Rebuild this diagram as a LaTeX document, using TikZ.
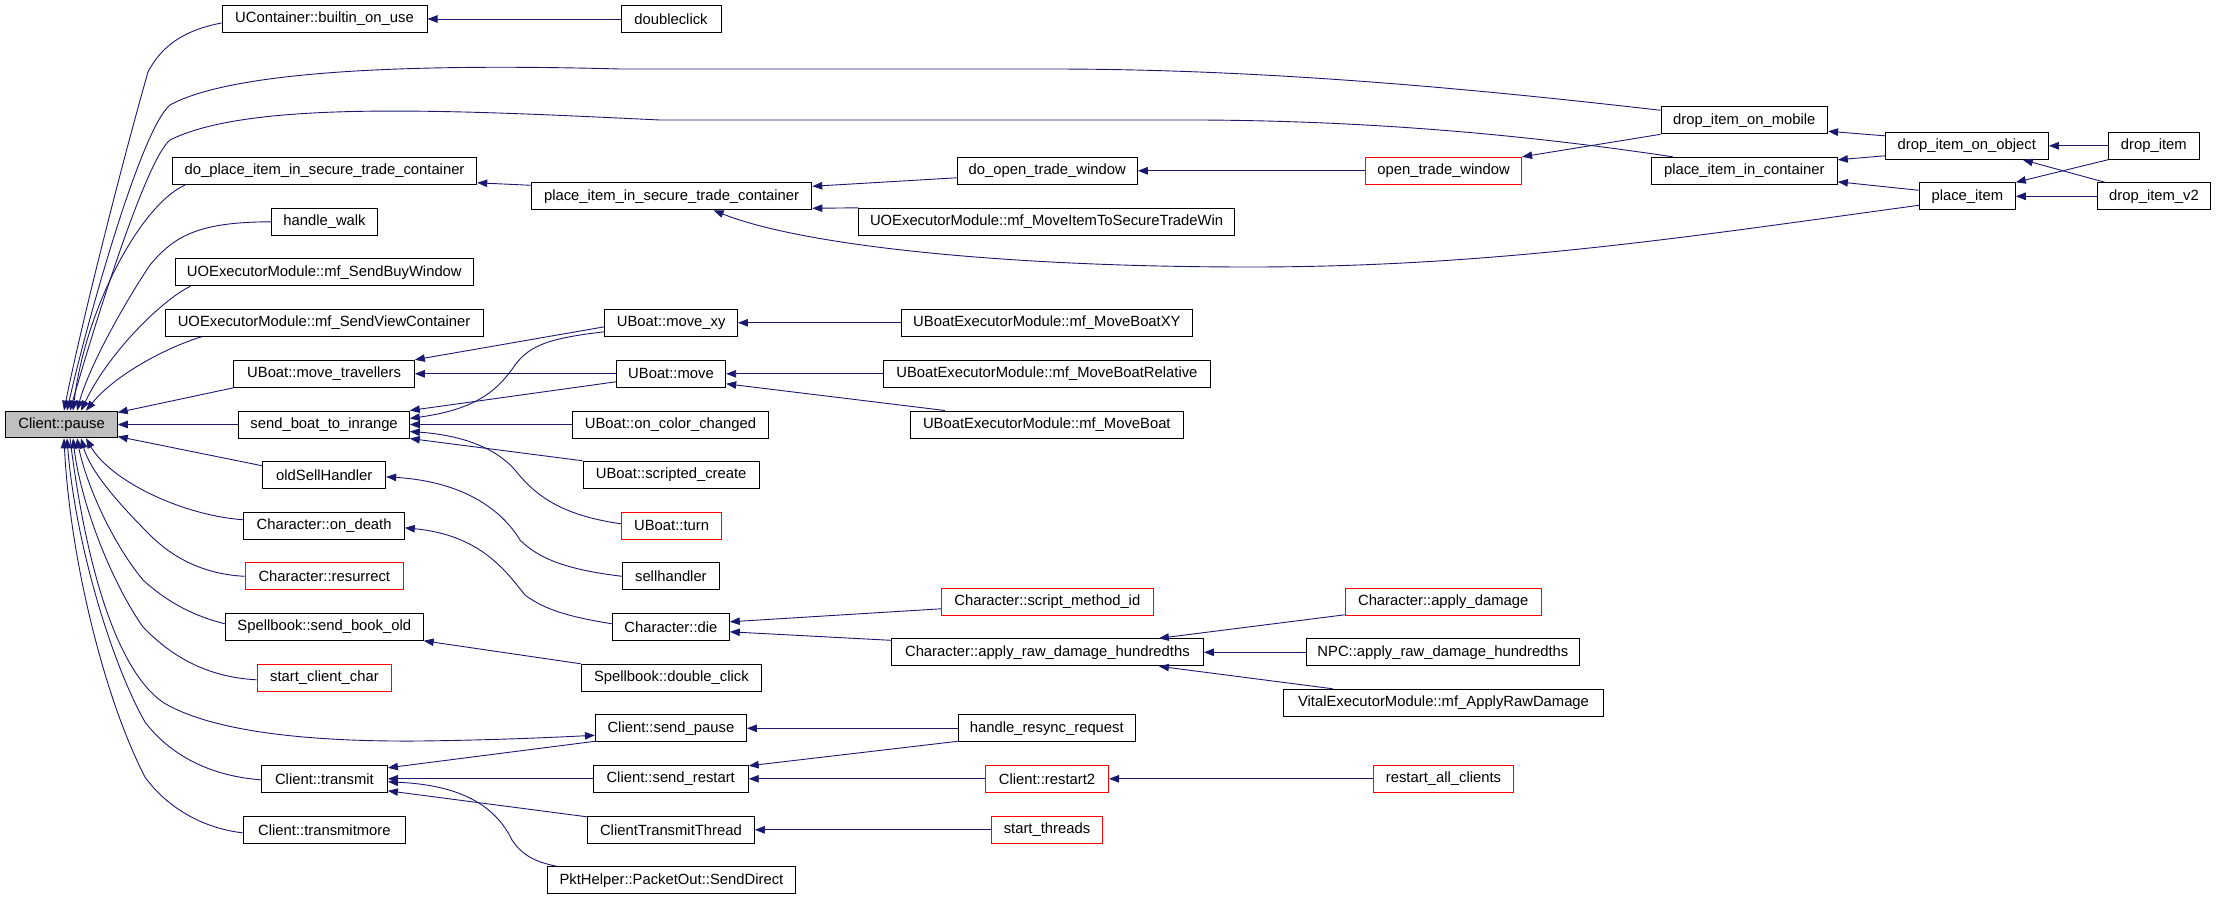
\documentclass[tikz,border=0pt]{standalone}
\usepackage{fontspec}
\setmainfont{Liberation Sans}
\usetikzlibrary{arrows.meta,calc}
\definecolor{edgeblue}{RGB}{25,25,112}
\definecolor{pausegray}{RGB}{191,191,191}
\definecolor{boxred}{RGB}{255,0,0}
\tikzset{
  fnbox/.style={rectangle,draw=black,line width=1pt,inner sep=0pt,minimum height=27pt,fill=white,font=\fontsize{14.8}{17}\selectfont},
  redbox/.style={draw=boxred},
  edge/.style={draw=edgeblue,line width=0.9pt,-{Triangle[length=10pt,width=7.5pt]}}
}
\newcommand\fn[5][]{\node[fnbox,minimum width=#4pt,#1] (#2) at (#3) {#5};}
\begin{document}
\begin{tikzpicture}[x=1pt,y=-1pt]
\useasboundingbox (0,0) rectangle (2216,899);
% nodes
\fn[fill=pausegray,minimum height=26.6pt]{pause}{61.6,424.5}{111.3}{Client::pause}
\fn{ucont}{324.5,19}{205}{UContainer::builtin\_on\_use}
\fn{doubleclick}{671,19}{100}{doubleclick}
\fn{doplace}{324.6,170.8}{304.3}{do\_place\_item\_in\_secure\_trade\_container}
\fn{pisecure}{671.6,196.3}{280.4}{place\_item\_in\_secure\_trade\_container}
\fn{hwalk}{324.5,221.8}{106}{handle\_walk}
\fn{sendbuy}{324.3,272.3}{298.6}{UOExecutorModule::mf\_SendBuyWindow}
\fn{sendview}{324.1,322.8}{318.2}{UOExecutorModule::mf\_SendViewContainer}
\fn{movetrav}{324.1,373.8}{180.4}{UBoat::move\_travellers}
\fn{sendboat}{324.1,424.5}{170.4}{send\_boat\_to\_inrange}
\fn{oldsell}{324.3,474.8}{122.8}{oldSellHandler}
\fn{ondeath}{324.1,525.8}{160.4}{Character::on\_death}
\fn[redbox]{resurrect}{324.3,576.3}{158.6}{Character::resurrect}
\fn{sendbook}{324.3,626.8}{197.8}{Spellbook::send\_book\_old}
\fn[redbox]{startcc}{324.4,677.8}{134.7}{start\_client\_char}
\fn{transmit}{324.4,778.8}{126}{Client::transmit}
\fn{transmitmore}{324.4,829.8}{162.5}{Client::transmitmore}
\fn{movexy}{671.2,322.8}{132.5}{UBoat::move\_xy}
\fn{move}{671,373.8}{109.3}{UBoat::move}
\fn{oncolor}{670.5,424.5}{195.3}{UBoat::on\_color\_changed}
\fn{scripted}{671.2,474.8}{176}{UBoat::scripted\_create}
\fn[redbox]{turn}{671.6,525.8}{100.4}{UBoat::turn}
\fn{sellhandler}{670.9,576.3}{96.8}{sellhandler}
\fn{die}{670.9,626.8}{116.8}{Character::die}
\fn{dblclick}{671.4,677.8}{180}{Spellbook::double\_click}
\fn{sendpause}{670.9,728.3}{151}{Client::send\_pause}
\fn{sendrestart}{670.7,778.8}{155}{Client::send\_restart}
\fn{ctt}{670.9,829.8}{166.8}{ClientTransmitThread}
\fn{senddirect}{671.4,880.3}{248}{PktHelper::PacketOut::SendDirect}
\fn{doopen}{1047.2,170.8}{180.2}{do\_open\_trade\_window}
\fn{moveitem}{1046.6,221.8}{375.4}{UOExecutorModule::mf\_MoveItemToSecureTradeWin}
\fn{mbxy}{1046.9,322.8}{291}{UBoatExecutorModule::mf\_MoveBoatXY}
\fn{mbrel}{1046.9,373.8}{327.4}{UBoatExecutorModule::mf\_MoveBoatRelative}
\fn{mb}{1046.8,424.5}{272.8}{UBoatExecutorModule::mf\_MoveBoat}
\fn[redbox]{smi}{1047.3,601.8}{211.8}{Character::script\_method\_id}
\fn{ard}{1047.4,652.3}{312}{Character::apply\_raw\_damage\_hundredths}
\fn{resync}{1046.8,728.3}{177.3}{handle\_resync\_request}
\fn[redbox]{restart2}{1047,778.8}{123}{Client::restart2}
\fn[redbox]{startthreads}{1047,829.8}{111}{start\_threads}
\fn[redbox]{opentrade}{1443.6,170.8}{156}{open\_trade\_window}
\fn[redbox]{applydmg}{1443.2,601.8}{196}{Character::apply\_damage}
\fn{npc}{1442.9,652.3}{273}{NPC::apply\_raw\_damage\_hundredths}
\fn{vital}{1443.5,702.8}{320}{VitalExecutorModule::mf\_ApplyRawDamage}
\fn[redbox]{restartall}{1443.5,778.8}{140}{restart\_all\_clients}
\fn{dropmob}{1744.3,120.3}{166.5}{drop\_item\_on\_mobile}
\fn{picont}{1744.3,170.8}{186}{place\_item\_in\_container}
\fn{dropobj}{1966.8,145.8}{163}{drop\_item\_on\_object}
\fn{placeitem}{1967.3,196.3}{96}{place\_item}
\fn{dropitem}{2153.8,145.8}{91}{drop\_item}
\fn{dropv2}{2154,196.3}{113}{drop\_item\_v2}
% edges into Client::pause
\draw[edge] ($(ucont.west)+(0,4)$) .. controls (185,30) and (162,45) .. (148,72) .. controls (120,170) and (80,330) .. ($(pause.north)+(2.4,0)$);
\draw[edge] ($(dropmob.west)+(0,-10)$) .. controls (1450,86) and (1250,69) .. (1050,69) -- (620,69) .. controls (400,63) and (230,72) .. (170,105) .. controls (140,130) and (85,330) .. ($(pause.north)+(5.4,0)$);
\draw[edge] ($(picont.north west)+(22,0)$) .. controls (1560,140) and (1400,121) .. (1200,120) -- (660,120) .. controls (450,110) and (250,100) .. (170,140) .. controls (145,160) and (90,340) .. ($(pause.north)+(8.4,0)$);
\draw[edge] ($(doplace.south west)+(13.5,0)$) .. controls (140,205) and (85,310) .. ($(pause.north)+(11.4,0)$);
\draw[edge] (hwalk.west) .. controls (200,222) and (175,235) .. (150,265) .. controls (120,310) and (88,370) .. ($(pause.north)+(15.4,0)$);
\draw[edge] ($(sendbuy.south west)+(16,0)$) .. controls (165,298) and (110,350) .. ($(pause.north)+(19.4,0)$);
\draw[edge] ($(sendview.south west)+(37,0)$) .. controls (165,348) and (115,375) .. ($(pause.north)+(24.4,0)$);
\draw[edge] (movetrav.south west) -- ($(pause.east)+(0,-12)$);
\draw[edge] (sendboat.west) -- (pause.east);
\draw[edge] ($(oldsell.west)+(0,-9)$) -- ($(pause.east)+(0,12)$);
\draw[edge] ($(ondeath.west)+(0,-6)$) .. controls (180,515) and (110,480) .. ($(pause.south)+(24.4,0)$);
\draw[edge] (resurrect.west) .. controls (200,574) and (170,555) .. (150,535) .. controls (115,500) and (90,470) .. ($(pause.south)+(19.4,0)$);
\draw[edge] ($(sendbook.west)+(0,-3)$) .. controls (190,615) and (165,600) .. (143,580) .. controls (110,540) and (85,480) .. ($(pause.south)+(15.4,0)$);
\draw[edge] ($(startcc.west)+(0,2)$) .. controls (205,677) and (170,655) .. (143,627) .. controls (110,580) and (80,500) .. ($(pause.south)+(11.4,0)$);
\draw[edge] ($(pause.south)+(8.4,0)$) .. controls (85,560) and (115,670) .. (164,703) .. controls (210,730) and (300,742) .. (420,741) .. controls (500,740) and (560,737) .. ($(sendpause.west)+(0,7)$);
\draw[edge] ($(transmit.west)+(0,1)$) .. controls (210,776) and (170,755) .. (145,722) .. controls (110,660) and (75,540) .. ($(pause.south)+(5.4,0)$);
\draw[edge] ($(transmitmore.west)+(0,3)$) .. controls (200,828) and (165,805) .. (145,777) .. controls (105,700) and (70,560) .. ($(pause.south)+(2.4,0)$);
% column 2 -> column 1
\draw[edge] (doubleclick.west) -- (ucont.east);
\draw[edge] ($(pisecure.north west)+(0,3)$) -- ($(doplace.south east)+(0,-2)$);
\draw[edge] ($(movexy.west)+(0,4)$) -- (movetrav.north east);
\draw[edge] (move.west) -- (movetrav.east);
\draw[edge] ($(movexy.west)+(0,9)$) .. controls (550,338) and (530,345) .. (515,365) .. controls (495,395) and (470,410) .. ($(sendboat.east)+(0,-6)$);
\draw[edge] ($(move.west)+(0,8)$) -- (sendboat.north east);
\draw[edge] (oncolor.west) -- (sendboat.east);
\draw[edge] (scripted.north west) -- (sendboat.south east);
\draw[edge] ($(turn.west)+(0,-2)$) .. controls (560,515) and (535,495) .. (515,470) .. controls (495,447) and (460,435) .. ($(sendboat.east)+(0,7)$);
\draw[edge] (sellhandler.west) .. controls (570,570) and (540,560) .. (520,540) .. controls (505,515) and (470,482) .. ($(oldsell.east)+(0,2)$);
\draw[edge] ($(die.west)+(0,-3)$) .. controls (570,617) and (545,610) .. (525,595) .. controls (505,570) and (480,535) .. ($(ondeath.east)+(0,2)$);
\draw[edge] (dblclick.north west) -- (sendbook.south east);
\draw[edge] ($(sendpause.south west)+(0,-1)$) -- ($(transmit.north east)+(0,3)$);
\draw[edge] (sendrestart.west) -- (transmit.east);
\draw[edge] ($(ctt.north west)+(0,1)$) -- ($(transmit.south east)+(0,-2)$);
\draw[edge] ($(senddirect.north west)+(10,0)$) .. controls (535,862) and (522,855) .. (512,840) .. controls (495,805) and (460,785) .. ($(transmit.east)+(0,3)$);
% column 3 -> column 2
\draw[edge] ($(doopen.west)+(0,7)$) -- ($(pisecure.north east)+(0,4)$);
\draw[edge] (moveitem.north west) -- ($(pisecure.south east)+(0,-2)$);
\draw[edge] ($(placeitem.west)+(0,9)$) .. controls (1700,235) and (1500,267) .. (1250,267) .. controls (1000,267) and (800,245) .. ($(pisecure.south)+(42,0)$);
\draw[edge] (mbxy.west) -- (movexy.east);
\draw[edge] (mbrel.west) -- (move.east);
\draw[edge] ($(mb.north west)+(35,0)$) -- ($(move.south east)+(0,-4)$);
\draw[edge] ($(smi.west)+(0,7)$) -- ($(die.east)+(0,-5)$);
\draw[edge] ($(ard.north west)+(0,2)$) -- ($(die.east)+(0,5)$);
\draw[edge] (resync.west) -- (sendpause.east);
\draw[edge] ($(resync.south west)+(0,-1)$) -- ($(sendrestart.north east)+(0,1)$);
\draw[edge] (restart2.west) -- (sendrestart.east);
\draw[edge] (startthreads.west) -- (ctt.east);
% column 4 -> column 3
\draw[edge] (opentrade.west) -- (doopen.east);
\draw[edge] ($(applydmg.south west)+(0,-1)$) -- ($(ard.north east)+(-45,0)$);
\draw[edge] (npc.west) -- (ard.east);
\draw[edge] ($(vital.north west)+(50,0)$) -- ($(ard.south east)+(-45,0)$);
\draw[edge] (restartall.west) -- (restart2.east);
% right columns
\draw[edge] (dropmob.south west) -- (opentrade.north east);
\draw[edge] ($(dropobj.west)+(0,-10)$) -- ($(dropmob.south east)+(0,-3)$);
\draw[edge] ($(dropobj.west)+(0,10)$) -- ($(picont.north east)+(0,3)$);
\draw[edge] ($(placeitem.west)+(0,-6)$) -- ($(picont.south east)+(0,-3)$);
\draw[edge] (dropitem.west) -- (dropobj.east);
\draw[edge] ($(dropv2.north west)+(8,0)$) -- ($(dropobj.south)+(56,0)$);
\draw[edge] (dropitem.south west) -- (placeitem.north east);
\draw[edge] (dropv2.west) -- (placeitem.east);
\end{tikzpicture}
\end{document}
